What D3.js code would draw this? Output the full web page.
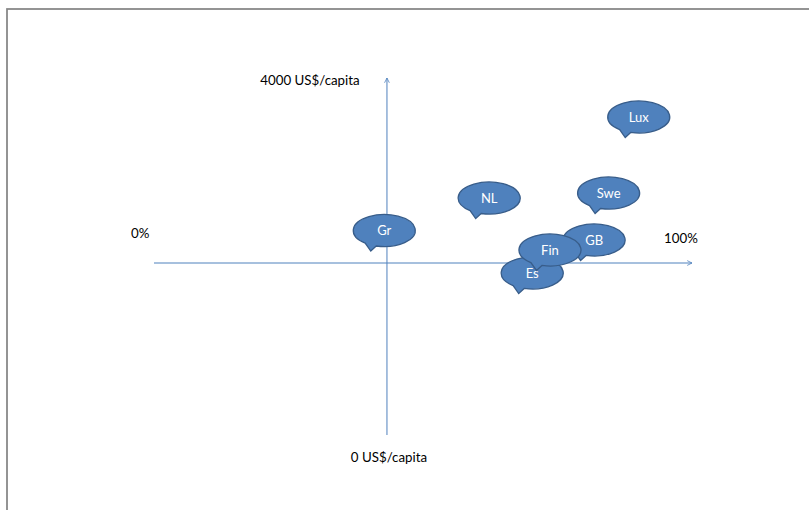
<!DOCTYPE html>
<html>
<head>
<meta charset="utf-8">
<script src="https://cdn.jsdelivr.net/npm/d3@7"></script>
<style>
  html, body { margin: 0; padding: 0; background: #fff; }
  svg { display: block; }
  .axis-label { font-family: Lato, "Open Sans", sans-serif; font-size: 13.3px; fill: #000; }
  .bubble-label { font-family: Lato, "Open Sans", sans-serif; font-size: 13px; fill: #fff; }
</style>
</head>
<body>
<div id="chart"></div>
<script>
// countries and their position (share %, US$/capita)
const countries = ['Es', 'GB', 'Fin', 'Gr', 'NL', 'Swe', 'Lux'];
const shares = [70.3, 81.8, 73.6, 42.8, 62.3, 84.5, 90.1];
const spending = [1815, 2185, 2073, 2291, 2655, 2711, 3563];

// where the two axes cross
const crossShare = 43.3;
const crossSpending = 1927;

const xEndLabels = ['0%', '100%'];
const yEndLabels = ['0 US$/capita', '4000 US$/capita'];

const width = 809;
const height = 510;

const svg = d3.select('#chart').append('svg')
  .attr('width', width)
  .attr('height', height);

// frame (continues past the right and bottom edge)
svg.append('rect')
  .attr('x', 7).attr('y', 9)
  .attr('width', 900).attr('height', 600)
  .attr('fill', 'none')
  .attr('stroke', '#868686')
  .attr('stroke-width', 1.75);

const x = d3.scaleLinear().domain([0, 100]).range([154, 692]);
const y = d3.scaleLinear().domain([0, 4000]).range([435, 78]);

const axisColor = '#4f81bd';
const defs = svg.append('defs');
defs.append('marker')
  .attr('id', 'arrow')
  .attr('viewBox', '0 0 10 10')
  .attr('refX', 9).attr('refY', 5)
  .attr('markerWidth', 6).attr('markerHeight', 6)
  .attr('markerUnits', 'userSpaceOnUse')
  .attr('orient', 'auto')
  .append('path')
  .attr('d', 'M1,1 L9,5 L1,9')
  .attr('fill', 'none')
  .attr('stroke', axisColor)
  .attr('stroke-width', 1.3);

// horizontal axis
svg.append('line')
  .attr('x1', x(0)).attr('x2', x(100))
  .attr('y1', y(crossSpending)).attr('y2', y(crossSpending))
  .attr('stroke', axisColor).attr('stroke-width', 1)
  .attr('marker-end', 'url(#arrow)');

// vertical axis
svg.append('line')
  .attr('x1', x(crossShare)).attr('x2', x(crossShare))
  .attr('y1', y(0)).attr('y2', y(4000))
  .attr('stroke', axisColor).attr('stroke-width', 1)
  .attr('marker-end', 'url(#arrow)');

// axis end labels
svg.append('text').attr('class', 'axis-label')
  .attr('x', x(0) - 23).attr('y', y(crossSpending) - 25)
  .text(xEndLabels[0]);
svg.append('text').attr('class', 'axis-label')
  .attr('x', x(100) - 28).attr('y', y(crossSpending) - 20)
  .text(xEndLabels[1]);
svg.append('text').attr('class', 'axis-label')
  .attr('x', x(crossShare) + 2).attr('y', y(0) + 27)
  .attr('text-anchor', 'middle')
  .text(yEndLabels[0]);
svg.append('text').attr('class', 'axis-label')
  .attr('x', x(crossShare) - 77).attr('y', y(4000) + 7)
  .attr('text-anchor', 'middle')
  .text(yEndLabels[1]);

// speech bubbles
const rx = 31, ry = 16;
function bubblePath() {
  // ellipse with a small tail at the lower left
  const a1 = (105 * Math.PI) / 180;
  const a2 = (128 * Math.PI) / 180;
  const p1 = [rx * Math.cos(a1), ry * Math.sin(a1)];
  const p2 = [rx * Math.cos(a2), ry * Math.sin(a2)];
  const tip = [-13.5, 20.5];
  return `M${p1[0]},${p1[1]} L${tip[0]},${tip[1]} L${p2[0]},${p2[1]} ` +
    `A${rx},${ry} 0 1 1 ${p1[0]},${p1[1]} Z`;
}

const points = countries.map((c, i) => ({ name: c, share: shares[i], spend: spending[i] }));

const bubble = svg.append('g').selectAll('g')
  .data(points)
  .join('g')
  .attr('transform', (d) => `translate(${x(d.share)},${y(d.spend)})`);

bubble.append('path')
  .attr('d', bubblePath())
  .attr('fill', '#4f81bd')
  .attr('stroke', '#385d8a')
  .attr('stroke-width', 1.3);

bubble.append('text')
  .attr('class', 'bubble-label')
  .attr('text-anchor', 'middle')
  .attr('dy', '0.36em')
  .text((d) => d.name);
</script>
</body>
</html>
